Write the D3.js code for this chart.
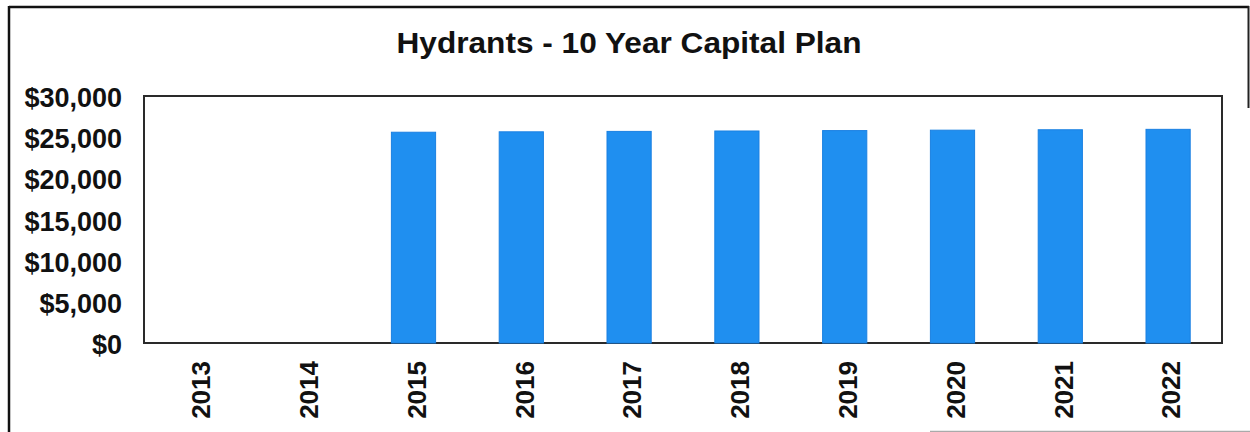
<!DOCTYPE html>
<html>
<head>
<meta charset="utf-8">
<script src="https://cdn.jsdelivr.net/npm/d3@7"></script>
<style>
  html, body { margin: 0; padding: 0; background: #fff; }
  svg { display: block; }
</style>
</head>
<body>
<svg id="chart" width="1250" height="432"></svg>
<script>
const titleText = "Hydrants - 10 Year Capital Plan";
const years = ["2013", "2014", "2015", "2016", "2017", "2018", "2019", "2020", "2021", "2022"];
const costs = [0, 0, 25600, 25650, 25700, 25750, 25800, 25850, 25900, 25950];
const yTicks = [0, 5000, 10000, 15000, 20000, 25000, 30000];

const svg = d3.select("#chart");
const W = 1250, H = 432;
const m = { left: 144, right: 1222, top: 96, bottom: 343 };

// outer frame (partial, as scanned)
svg.append("line").attr("x1", 9).attr("x2", 9).attr("y1", 6).attr("y2", H)
  .attr("stroke", "#111").attr("stroke-width", 2.5);
svg.append("line").attr("x1", 9).attr("x2", 1249).attr("y1", 7).attr("y2", 7)
  .attr("stroke", "#111").attr("stroke-width", 2.5);
svg.append("line").attr("x1", 1248.5).attr("x2", 1248.5).attr("y1", 6).attr("y2", 108)
  .attr("stroke", "#222").attr("stroke-width", 2);
svg.append("line").attr("x1", 930).attr("x2", 1250).attr("y1", 431.5).attr("y2", 431.5)
  .attr("stroke", "#aaa").attr("stroke-width", 1.5);

// title
svg.append("text")
  .attr("x", 629).attr("y", 53)
  .attr("text-anchor", "middle")
  .attr("font-family", "Liberation Sans, Arial, sans-serif")
  .attr("font-weight", "bold")
  .attr("font-size", 29)
  .attr("textLength", 465)
  .attr("lengthAdjust", "spacingAndGlyphs")
  .attr("fill", "#111")
  .text(titleText);

const x = d3.scaleBand().domain(years).range([m.left, m.right]).paddingInner(0.59).paddingOuter(0.295);
const y = d3.scaleLinear().domain([0, 30000]).range([m.bottom, m.top]);

// plot area
svg.append("rect")
  .attr("x", m.left).attr("y", m.top)
  .attr("width", m.right - m.left).attr("height", m.bottom - m.top)
  .attr("fill", "#fff").attr("stroke", "#2a2a2a").attr("stroke-width", 2);

// bars
svg.append("g").selectAll("rect").data(years.map((yr, i) => ({ yr, v: costs[i] })).filter(d => d.v > 0))
  .join("rect")
  .attr("x", d => x(d.yr))
  .attr("y", d => y(d.v))
  .attr("width", x.bandwidth())
  .attr("height", d => y(0) - y(d.v))
  .attr("fill", "#1f8ff0")
  .attr("stroke", "#1a80e2")
  .attr("stroke-width", 1);

// y axis
const yAxis = d3.axisLeft(y).tickValues(yTicks).tickSize(0).tickPadding(22)
  .tickFormat(d => "$" + d3.format(",")(d));
const gy = svg.append("g").attr("transform", `translate(${m.left},2)`).call(yAxis);
gy.select(".domain").remove();
gy.selectAll("text")
  .attr("font-family", "Liberation Sans, Arial, sans-serif")
  .attr("font-weight", "bold")
  .attr("font-size", 27)
  .attr("fill", "#111");

// x axis
const xAxis = d3.axisBottom(x).tickSize(0).tickPadding(0);
const gx = svg.append("g").attr("transform", `translate(0,${m.bottom})`).call(xAxis);
gx.select(".domain").remove();
gx.selectAll("text")
  .attr("font-family", "Liberation Sans, Arial, sans-serif")
  .attr("font-weight", "bold")
  .attr("font-size", 26)
  .attr("fill", "#111")
  .attr("text-anchor", "end")
  .attr("dy", "0.36em")
  .attr("transform", "translate(3,18) rotate(-90)")
  .attr("x", 0).attr("y", 0);
</script>
</body>
</html>
